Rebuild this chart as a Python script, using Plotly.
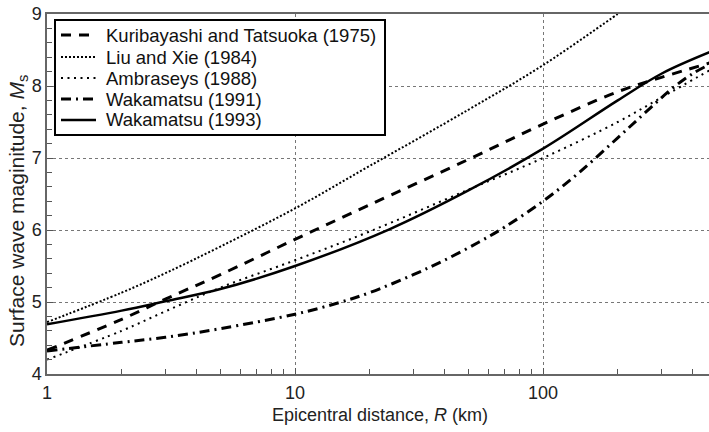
import plotly.graph_objects as go

# ---- data ----
kt_x = [1, 2, 3, 5, 10, 20, 50, 100, 200, 300, 470]
kt_y = [4.33, 4.76, 5.04, 5.38, 5.87, 6.35, 6.98, 7.47, 7.92, 8.12, 8.32]

lx_x = [1, 2, 3, 5, 10, 20, 50, 100, 200, 210]
lx_y = [4.72, 5.13, 5.4, 5.77, 6.3, 6.89, 7.67, 8.29, 9.0, 9.05]

am_x = [1, 2, 3, 5, 10, 20, 50, 100, 200, 300, 470]
am_y = [4.2, 4.6, 4.87, 5.2, 5.58, 5.98, 6.56, 7.0, 7.5, 7.84, 8.22]

w91_x = [1, 2, 3, 5, 10, 15, 20, 30, 40, 55, 70, 100, 140, 200, 260, 330, 400, 470]
w91_y = [4.32, 4.44, 4.51, 4.63, 4.83, 4.99, 5.13, 5.38, 5.58, 5.83, 6.04, 6.4, 6.8, 7.28,
         7.64, 7.96, 8.17, 8.3]

w93_x = [1, 2, 3, 5, 10, 24, 50, 100, 200, 300, 470]
w93_y = [4.69, 4.88, 5.01, 5.18, 5.5, 6.01, 6.55, 7.13, 7.8, 8.17, 8.47]

names = ["Kuribayashi and Tatsuoka (1975)", "Liu and Xie (1984)", "Ambraseys (1988)",
         "Wakamatsu (1991)", "Wakamatsu (1993)"]

x_major = [1, 10, 100]
x_tick_text = ["1", "10", "100"]
x_minor = [2, 3, 4, 5, 6, 7, 8, 9, 20, 30, 40, 50, 60, 70, 80, 90, 200, 300, 400]

FONT = "Arial, 'Liberation Sans', sans-serif"

W, H = 709, 432
L, R, T, B = 47, 0, 14, 58
PW, PH = W - L - R, H - T - B


def px_x(p):  # pixel -> paper x
    return (p - L) / PW


def px_y(p):  # pixel -> paper y
    return (H - B - p) / PH


styles = [
    dict(color="black", width=3, dash="10px,8px"),
    dict(color="black", width=2, dash="2px,2px"),
    dict(color="black", width=2, dash="2px,4.5px"),
    dict(color="black", width=3, dash="10px,5px,2px,5px"),
    dict(color="black", width=2.5),
]
data = [(kt_x, kt_y), (lx_x, lx_y), (am_x, am_y), (w91_x, w91_y), (w93_x, w93_y)]

fig = go.Figure()
for (xs, ys), ln, nm in zip(data, styles, names):
    fig.add_trace(go.Scatter(x=xs, y=ys, mode="lines", name=nm, showlegend=False,
                             line=dict(shape="spline", smoothing=1.0, **ln)))

# ---- hand-built legend (box, samples, labels) ----
shapes = [dict(type="rect", xref="paper", yref="paper",
               x0=px_x(55), x1=px_x(385), y0=px_y(135), y1=px_y(20),
               line=dict(color="black", width=2), fillcolor="white", layer="above")]
annotations = []
row_y = [35, 57, 78, 99, 120]
for ry, ln, nm in zip(row_y, styles, names):
    shapes.append(dict(type="line", xref="paper", yref="paper",
                       x0=px_x(61), x1=px_x(96), y0=px_y(ry), y1=px_y(ry),
                       line=ln, layer="above"))
    annotations.append(dict(text=nm, xref="paper", yref="paper", x=px_x(104), y=px_y(ry),
                            xanchor="left", yanchor="middle", showarrow=False,
                            font=dict(size=18.5, color="#111", family=FONT)))

# axis titles
annotations.append(dict(text="Epicentral distance, <i>R</i> (km)", xref="paper", yref="paper",
                        x=px_x(380), y=px_y(415), xanchor="center", yanchor="middle",
                        showarrow=False, font=dict(size=18, color="#222", family=FONT)))
annotations.append(dict(text="Surface wave maginitude, <i>M</i><sub>s</sub>", xref="paper",
                        yref="paper", x=px_x(18), y=px_y(211), xanchor="center",
                        yanchor="middle", textangle=-90, showarrow=False,
                        font=dict(size=21, color="#222", family=FONT)))

fig.update_layout(
    width=W, height=H,
    margin=dict(l=L, r=R, t=T, b=B, autoexpand=False),
    plot_bgcolor="white", paper_bgcolor="white",
    font=dict(family=FONT, size=17, color="#222"),
    showlegend=False,
    shapes=shapes, annotations=annotations,
)
fig.update_xaxes(
    type="log", range=[0, 2.669], automargin=False,
    tickmode="array", tickvals=x_major, ticktext=x_tick_text,
    ticks="inside", ticklen=6, tickcolor="#555", ticklabelstandoff=2,
    minor=dict(tickmode="array", tickvals=x_minor, ticks="inside", ticklen=5,
               tickcolor="#555", showgrid=False),
    showgrid=True, gridcolor="#777", griddash="dot", gridwidth=1,
    showline=True, linecolor="#666", linewidth=1.5, mirror=True,
    tickfont=dict(size=18, color="#222"), zeroline=False,
)
fig.update_yaxes(
    range=[4, 9], dtick=1, tick0=4, automargin=False,
    ticks="inside", ticklen=6, tickcolor="#555",
    minor=dict(dtick=0.2, ticks="inside", ticklen=5, tickcolor="#555", showgrid=False),
    showgrid=True, gridcolor="#777", griddash="dot", gridwidth=1,
    showline=True, linecolor="#666", linewidth=1.5, mirror=False,
    tickfont=dict(size=18, color="#222"), zeroline=False,
)
fig.write_html(
    "out.html",
    config={"displayModeBar": False},
    post_script="document.body.style.margin='0';"
                "document.body.style.overflow='hidden';"
                "document.documentElement.style.overflow='hidden';",
)
